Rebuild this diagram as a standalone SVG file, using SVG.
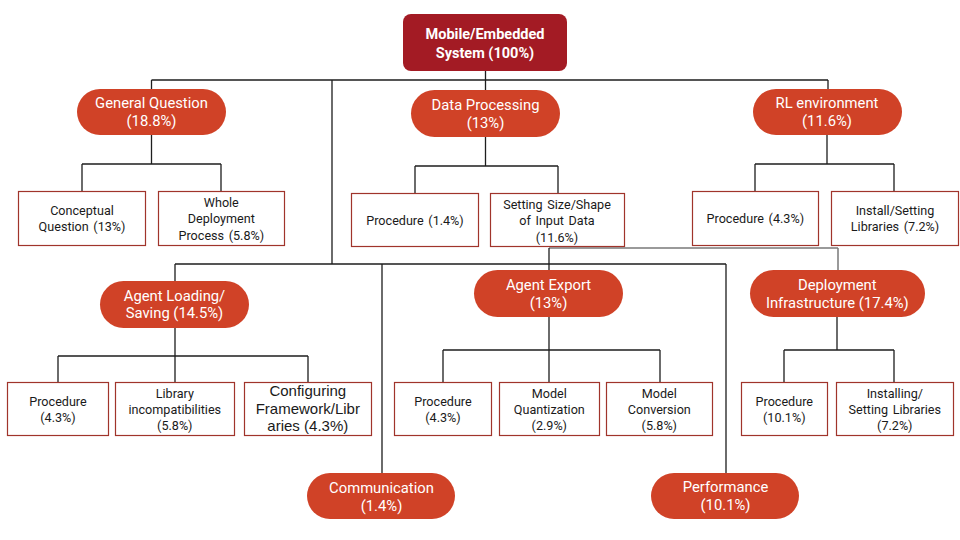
<svg xmlns="http://www.w3.org/2000/svg" width="960" height="540" viewBox="0 0 960 540">
<style>
.bg{fill:#ffffff}
.root{fill:#a31b24}
.pill{fill:#d04227}
.box{fill:#ffffff;stroke:#a0342b;stroke-width:1.2}
.ln{fill:none;stroke:#1e1e1e;stroke-width:1.3}
.gl{fill:none;stroke:#7a7a7a;stroke-width:1.5}
.rt{font-family:Roboto,"Liberation Sans",sans-serif;font-size:14.5px;font-weight:bold;fill:#ffffff;text-anchor:middle}
.pt{font-family:Roboto,"Liberation Sans",sans-serif;font-size:14.8px;fill:#ffffff;text-anchor:middle}
.bt{font-family:Roboto,"Liberation Sans",sans-serif;font-size:12.6px;fill:#1a1a1a;text-anchor:middle;word-spacing:1.5px}
.bt2{font-family:"Liberation Sans",Arial,sans-serif;font-size:15px;fill:#1a1a1a;text-anchor:middle}
</style>
<rect class="bg" x="0" y="0" width="960" height="540"/>
<g id="connectors">
<path class="ln" d="M485.5 70.5 V90 M151.5 80 H828 M151.5 80 V89 M828 80 V89 M332 80 V264 M175 264 H726 M175 264 V281 M382 264 V473 M726 264 V473"/>
<path class="gl" d="M549 248 H838 M838 248 V270"/>
<path class="ln" d="M549 248 V270"/>
<path class="ln" d="M151.5 135 V164 M82 164 H221 M82 164 V191 M221 164 V191"/>
<path class="ln" d="M485.5 137 V166 M415 166 H558 M415 166 V193 M558 166 V193"/>
<path class="ln" d="M827 135 V164 M755 164 H894 M755 164 V192 M894 164 V192"/>
<path class="ln" d="M175 328 V356 M58 356 H308 M58 356 V382 M175 356 V382 M308 356 V382"/>
<path class="ln" d="M549 317 V350 M443 350 H660 M443 350 V382 M549 350 V382 M660 350 V382"/>
<path class="ln" d="M837 317 V350 M784 350 H894 M784 350 V382 M894 350 V382"/>
</g>
<g id="root">
<rect class="root" x="403" y="14" width="164" height="57" rx="8"/>
<text class="rt" x="485" y="38.5">Mobile/Embedded</text>
<text class="rt" x="485" y="57.5">System (100%)</text>
</g>
<g id="general-question">
<rect class="pill" x="77" y="89" width="149" height="46" rx="23"/>
<text class="pt" x="151.5" y="108">General Question</text>
<text class="pt" x="151.5" y="126">(18.8%)</text>
</g>
<g id="conceptual-question">
<rect class="box" x="18.5" y="191.5" width="127" height="54"/>
<text class="bt" x="82" y="214.6">Conceptual</text>
<text class="bt" x="82" y="231">Question (13%)</text>
</g>
<g id="whole-deployment">
<rect class="box" x="158.5" y="191.5" width="126" height="54"/>
<text class="bt" x="221.3" y="206.5">Whole</text>
<text class="bt" x="221.3" y="223">Deployment</text>
<text class="bt" x="221.3" y="239.5">Process (5.8%)</text>
</g>
<g id="data-processing">
<rect class="pill" x="411" y="90" width="149" height="47" rx="23.5"/>
<text class="pt" x="485.5" y="110">Data Processing</text>
<text class="pt" x="485.5" y="128">(13%)</text>
</g>
<g id="dp-procedure">
<rect class="box" x="351.5" y="193.5" width="127" height="53"/>
<text class="bt" x="415" y="225">Procedure (1.4%)</text>
</g>
<g id="dp-setting-size">
<rect class="box" x="490.5" y="193.5" width="134" height="53"/>
<text class="bt" x="557" y="208.5">Setting Size/Shape</text>
<text class="bt" x="557" y="225">of Input Data</text>
<text class="bt" x="557" y="241.5">(11.6%)</text>
</g>
<g id="rl-environment">
<rect class="pill" x="753" y="89" width="149" height="46" rx="23"/>
<text class="pt" x="827" y="108">RL environment</text>
<text class="pt" x="827" y="126">(11.6%)</text>
</g>
<g id="rl-procedure">
<rect class="box" x="692.5" y="191.5" width="126" height="54"/>
<text class="bt" x="755.3" y="223">Procedure (4.3%)</text>
</g>
<g id="rl-install">
<rect class="box" x="831.5" y="191.5" width="127" height="54"/>
<text class="bt" x="895" y="215">Install/Setting</text>
<text class="bt" x="895" y="231.3">Libraries (7.2%)</text>
</g>
<g id="agent-loading">
<rect class="pill" x="100" y="281" width="149" height="47" rx="23.5"/>
<text class="pt" x="174.5" y="300.7">Agent Loading/</text>
<text class="pt" x="174.5" y="318.3">Saving (14.5%)</text>
</g>
<g id="al-procedure">
<rect class="box" x="7.5" y="382.5" width="101" height="53"/>
<text class="bt" x="58" y="406">Procedure</text>
<text class="bt" x="58" y="422">(4.3%)</text>
</g>
<g id="al-library">
<rect class="box" x="115.5" y="382.5" width="119" height="53"/>
<text class="bt" x="174.8" y="398">Library</text>
<text class="bt" x="174.8" y="413.6">incompatibilities</text>
<text class="bt" x="174.8" y="429.6">(5.8%)</text>
</g>
<g id="al-configuring">
<rect class="box" x="244.5" y="382.5" width="127" height="53"/>
<text class="bt2" x="307.8" y="396">Configuring</text>
<text class="bt2" x="307.8" y="414">Framework/Libr</text>
<text class="bt2" x="307.8" y="431">aries (4.3%)</text>
</g>
<g id="agent-export">
<rect class="pill" x="474" y="270" width="149" height="47" rx="23.5"/>
<text class="pt" x="548.5" y="290">Agent Export</text>
<text class="pt" x="548.5" y="307.5">(13%)</text>
</g>
<g id="ae-procedure">
<rect class="box" x="394.5" y="382.5" width="97" height="53"/>
<text class="bt" x="443" y="406">Procedure</text>
<text class="bt" x="443" y="422">(4.3%)</text>
</g>
<g id="ae-quantization">
<rect class="box" x="499.5" y="382.5" width="100" height="53"/>
<text class="bt" x="549.3" y="398">Model</text>
<text class="bt" x="549.3" y="413.6">Quantization</text>
<text class="bt" x="549.3" y="429.6">(2.9%)</text>
</g>
<g id="ae-conversion">
<rect class="box" x="606.5" y="382.5" width="106" height="53"/>
<text class="bt" x="659.3" y="398">Model</text>
<text class="bt" x="659.3" y="413.6">Conversion</text>
<text class="bt" x="659.3" y="429.6">(5.8%)</text>
</g>
<g id="deployment-infrastructure">
<rect class="pill" x="750" y="270" width="175" height="47" rx="23.5"/>
<text class="pt" x="837.3" y="290">Deployment</text>
<text class="pt" x="837.3" y="307.5">Infrastructure (17.4%)</text>
</g>
<g id="di-procedure">
<rect class="box" x="741.5" y="382.5" width="86" height="53"/>
<text class="bt" x="784.3" y="406">Procedure</text>
<text class="bt" x="784.3" y="422">(10.1%)</text>
</g>
<g id="di-installing">
<rect class="box" x="836.5" y="382.5" width="117" height="53"/>
<text class="bt" x="894.8" y="398">Installing/</text>
<text class="bt" x="894.8" y="413.6">Setting Libraries</text>
<text class="bt" x="894.8" y="429.6">(7.2%)</text>
</g>
<g id="communication">
<rect class="pill" x="307" y="473" width="148" height="46" rx="23"/>
<text class="pt" x="381.5" y="492.7">Communication</text>
<text class="pt" x="381.5" y="511">(1.4%)</text>
</g>
<g id="performance">
<rect class="pill" x="651" y="473" width="148" height="46" rx="23"/>
<text class="pt" x="725.5" y="491.7">Performance</text>
<text class="pt" x="725.5" y="510">(10.1%)</text>
</g>
</svg>
